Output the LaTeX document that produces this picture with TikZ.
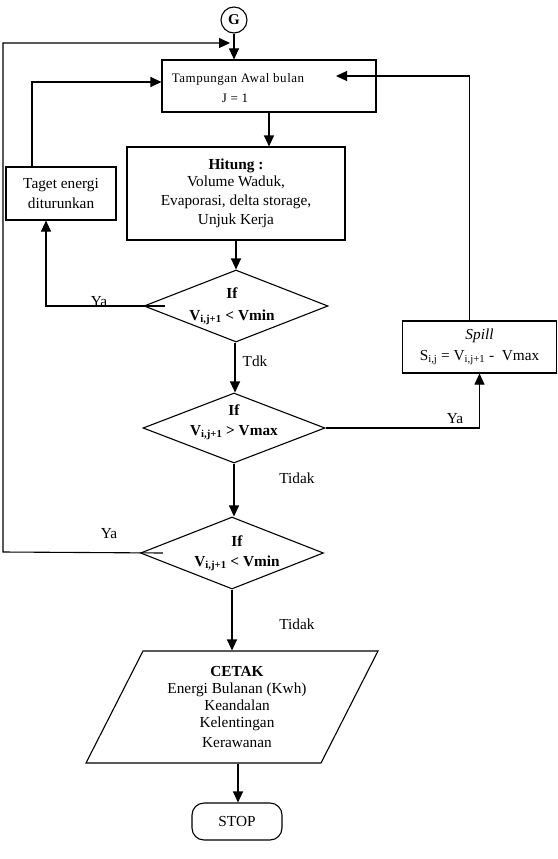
\documentclass[tikz,border=0pt]{standalone}
\usepackage{fontspec}
\setmainfont{Liberation Serif}
\newfontfamily\spacedfont[LetterSpace=4]{Liberation Serif}
\usetikzlibrary{arrows.meta,shapes.geometric,calc}
\begin{document}
\begin{tikzpicture}[x=1pt,y=-1pt,
  line width=1.1pt,
  arr/.style={-{Triangle[length=11pt,width=10pt]}},
  txt/.style={font=\fontsize{15.3}{19}\selectfont, align=center, inner sep=0pt},
  small/.style={font=\fontsize{13}{16}\selectfont\spacedfont, inner sep=0pt},
  box/.style={draw, rectangle, inner sep=0pt},
  dia/.style={draw, diamond, inner sep=0pt},
  lbl/.style={font=\fontsize{15.3}{19}\selectfont, inner sep=0pt}
]
\useasboundingbox (0,0) rectangle (557,859);

% nodes
\node[draw, circle, minimum size=26pt, inner sep=0pt, font=\fontsize{15}{18}\selectfont\bfseries] (G) at (234,20) {G};
\node[box, minimum width=214pt, minimum height=52pt] (tamp) at (269,86) {};
\node[small] (tamp1) at (238,79) {Tampungan Awal bulan};
\node[small] (tamp2) at (235,98) {J = 1};

\node[box, txt, minimum width=218pt, minimum height=93pt] (hit) at (236,193.5)
  {\textbf{Hitung :}\\[-2pt]Volume Waduk,\\Evaporasi, delta storage,\\Unjuk Kerja};

\node[box, txt, minimum width=110pt, minimum height=53pt] (taget) at (61,193.5)
  {Taget energi\\[1pt]diturunkan};

\node[dia, minimum width=184pt, minimum height=72pt] (d1) at (236,306) {};
\node[txt, font=\fontsize{15.3}{19}\selectfont\bfseries] (d1t) at (232,306) {If\\[3pt]V\textsubscript{i,j+1} < Vmin};

\node[box, txt, minimum width=154pt, minimum height=52pt] (spill) at (479.5,347)
  {\textit{Spill}\\[2pt]S\textsubscript{i,j} = V\textsubscript{i,j+1} -~ Vmax};

\node[dia, minimum width=182pt, minimum height=70pt] (d2) at (234,428) {};
\node[txt, font=\fontsize{15.3}{19}\selectfont\bfseries] (d2t) at (234,422) {If\\[1pt]V\textsubscript{i,j+1} > Vmax};

\node[dia, minimum width=183pt, minimum height=72pt] (d3) at (232,553) {};
\node[txt, font=\fontsize{15.3}{19}\selectfont\bfseries] (d3t) at (237,553) {If\\[1pt]V\textsubscript{i,j+1} < Vmin};

\draw (143,651) -- (378,651) -- (321,763) -- (86,763) -- cycle;
\node[txt, minimum height=112pt] (cetak) at (237,707)
  {\textbf{CETAK}\\[-2pt]Energi Bulanan (Kwh)\\[-2pt]Keandalan\\[-2pt]Kelentingan\\[1pt]Kerawanan};

\node[draw, rounded corners=12pt, minimum width=90pt, minimum height=37pt, inner sep=0pt, font=\fontsize{15.3}{18}\selectfont] (stop) at (237,821.5) {STOP};

% free ends
\coordinate (gin) at (230,43);
\coordinate (leftcorner) at (3,552);
\coordinate (spillin) at (336,76);

% connectors
\draw[arr] (G.south) -- (G.south |- tamp.north);
\draw[arr] ([xshift=23pt]d3.west) -- (leftcorner) |- (gin);
\draw[arr] (tamp.south) -- (tamp.south |- hit.north);
\draw[arr] (hit.south) -- (d1.north);
\draw[arr] ([xshift=22pt]d1.west) -| ([xshift=-15pt]taget.south);
\draw[arr] ([xshift=-29pt]taget.north) |- ([yshift=4pt]tamp.west);
\draw[arr] ([xshift=-1pt]d1.south) -- ([xshift=-1pt]d1.south |- d2.north);
\draw[arr] (d2.east) -| (spill.south);
\draw[arr] ([xshift=-10pt]spill.north) |- (spillin);
\draw[arr] (d2.south) -- (d2.south |- d3.north);
\draw[arr] (d3.south) -- (d3.south |- cetak.north);
\draw[arr] ([xshift=1pt]cetak.south) -- ([xshift=1pt]stop.north);

% labels
\node[lbl] (ya1) at (99,302) {Ya};
\node[lbl] (tdk) at (255,361) {Tdk};
\node[lbl] (ya2) at (455,419) {Ya};
\node[lbl] (tidak1) at (297,478) {Tidak};
\node[lbl] (ya3) at (109,534) {Ya};
\node[lbl] (tidak2) at (297,624) {Tidak};
\end{tikzpicture}
\end{document}
